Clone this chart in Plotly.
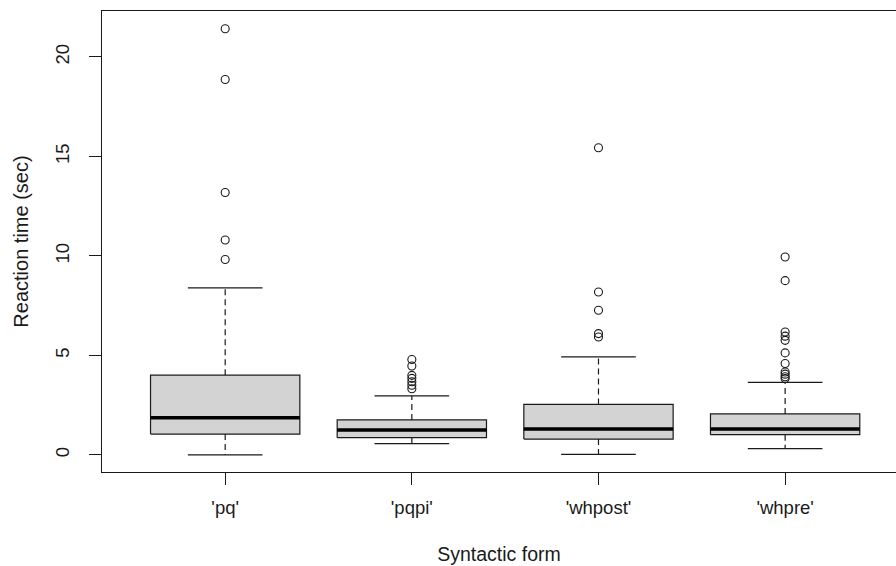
import plotly.graph_objects as go

# ---- data ----
categories = ["'pq'", "'pqpi'", "'whpost'", "'whpre'"]
q1 = [1.05, 0.87, 0.80, 1.02]
median = [1.87, 1.25, 1.30, 1.30]
q3 = [4.01, 1.76, 2.54, 2.06]
lower_whisker = [0.00, 0.57, 0.03, 0.32]
upper_whisker = [8.40, 2.97, 4.93, 3.65]
outliers_pq = [21.42, 18.87, 13.19, 10.80, 9.82]
outliers_pqpi = [4.80, 4.47, 4.00, 3.85, 3.68, 3.50, 3.33]
outliers_whpost = [15.44, 8.19, 7.27, 6.10, 5.93]
outliers_whpre = [9.95, 8.76, 6.18, 5.97, 5.76, 5.13, 4.60, 4.17, 4.06, 3.93, 3.84]
outliers = [outliers_pq, outliers_pqpi, outliers_whpost, outliers_whpre]

y_ticks = [0, 5, 10, 15, 20]

# ---- style ----
BOX_HALF = 0.4
CAP_HALF = 0.2
LINE = "#1a1a1a"
FILL = "#d3d3d3"
FONT = "Liberation Sans, Arial, sans-serif"

fig = go.Figure()

for i, cat in enumerate(categories):
    # whiskers (dashed)
    fig.add_trace(go.Scatter(
        x=[i, i, None, i, i],
        y=[q3[i], upper_whisker[i], None, q1[i], lower_whisker[i]],
        mode="lines", line=dict(color=LINE, width=1.2, dash="6px,4px"),
        showlegend=False, hoverinfo="skip"))
    # caps
    fig.add_trace(go.Scatter(
        x=[i - CAP_HALF, i + CAP_HALF, None, i - CAP_HALF, i + CAP_HALF],
        y=[upper_whisker[i], upper_whisker[i], None, lower_whisker[i], lower_whisker[i]],
        mode="lines", line=dict(color=LINE, width=1.2),
        showlegend=False, hoverinfo="skip"))
    # box
    fig.add_trace(go.Scatter(
        x=[i - BOX_HALF, i + BOX_HALF, i + BOX_HALF, i - BOX_HALF, i - BOX_HALF],
        y=[q1[i], q1[i], q3[i], q3[i], q1[i]],
        mode="lines", fill="toself", fillcolor=FILL,
        line=dict(color=LINE, width=1.2),
        showlegend=False, hoverinfo="skip"))
    # median
    fig.add_trace(go.Scatter(
        x=[i - BOX_HALF, i + BOX_HALF],
        y=[median[i], median[i]],
        mode="lines", line=dict(color="black", width=3.5),
        showlegend=False, hoverinfo="skip"))
    # outliers
    fig.add_trace(go.Scatter(
        x=[i] * len(outliers[i]),
        y=outliers[i],
        mode="markers",
        marker=dict(symbol="circle-open", size=8, color=LINE, line=dict(width=1.1)),
        showlegend=False, hoverinfo="skip"))

n = len(categories)
fig.update_layout(
    width=896, height=566,
    margin=dict(l=102, r=0, t=11, b=94),
    paper_bgcolor="white", plot_bgcolor="white",
    font=dict(family=FONT, size=17, color="#1a1a1a"),
    xaxis=dict(
        range=[-0.66, n - 1 + 0.594],
        tickmode="array", tickvals=list(range(n)), ticktext=categories,
        tickfont=dict(family=FONT, size=18.5, color="#1a1a1a"),
        ticks="outside", ticklen=12, tickwidth=1, tickcolor=LINE,
        showline=True, linecolor=LINE, linewidth=1.2, mirror=True,
        showgrid=False, zeroline=False,
        title=dict(text="Syntactic form", standoff=30,
                   font=dict(family=FONT, size=19.5, color="#1a1a1a")),
        ticklabelstandoff=7,
    ),
    yaxis=dict(
        range=[-0.856, 22.31],
        tickmode="array", tickvals=y_ticks, ticktext=[str(v) for v in y_ticks],
        tickangle=-90,
        tickfont=dict(family=FONT, size=18.5, color="#1a1a1a"),
        ticks="outside", ticklen=12, tickwidth=1, tickcolor=LINE,
        showline=True, linecolor=LINE, linewidth=1.2,
        showgrid=False, zeroline=False,
        title=dict(text="Reaction time (sec)", standoff=17,
                   font=dict(family=FONT, size=20, color="#1a1a1a")),
        ticklabelstandoff=13,
    ),
)

fig.write_html("out.html")
